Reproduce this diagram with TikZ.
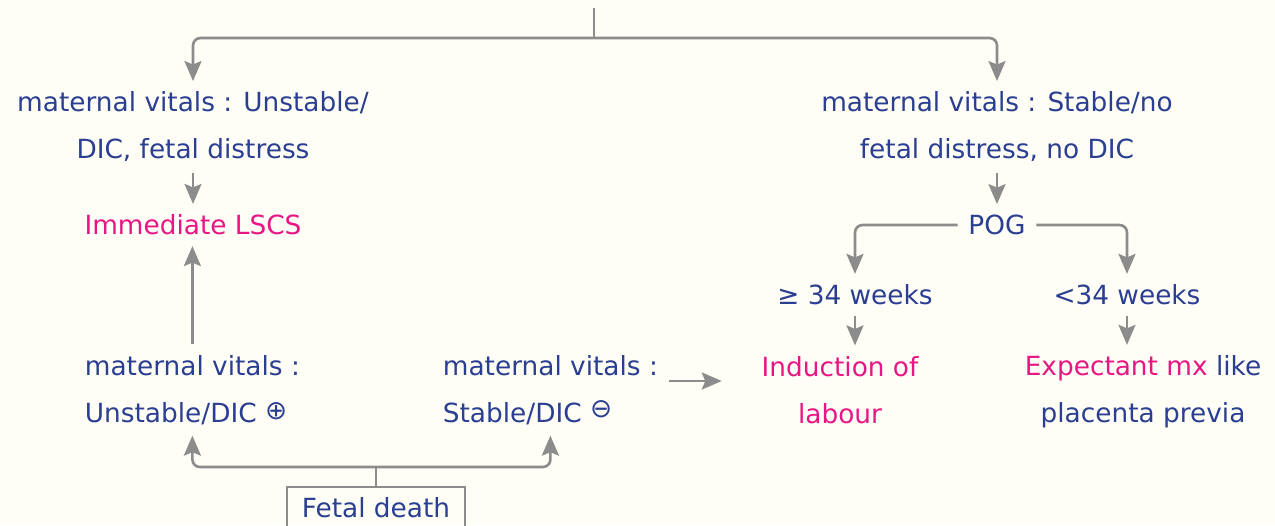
\documentclass[tikz,border=0pt]{standalone}
\usepackage{fontspec}
\setmainfont{DejaVu Sans}
\usepackage{tikz}
\usetikzlibrary{arrows.meta,positioning}
\definecolor{penblue}{RGB}{42,62,146}
\definecolor{penpink}{RGB}{232,22,132}
\definecolor{wiregray}{RGB}{140,140,140}
\definecolor{paper}{RGB}{255,254,246}
\tikzset{
  note/.style={font=\fontsize{15}{26.75}\selectfont, text=penblue,
               align=center, inner sep=6pt},
  hot/.style={note, text=penpink},
  arr/.style={-{Stealth[length=0.4cm, width=0.34cm, inset=0.07cm]},
              line width=1.5pt, draw=wiregray, rounded corners=0.15cm},
  wire/.style={line width=1.5pt, draw=wiregray},
  deathbox/.style={note, draw=wiregray, line width=1.2pt,
                   minimum width=3.56cm, text depth=0.35cm},
}

\begin{document}
\begin{tikzpicture}[x=0.02cm, y=-0.02cm]
  % paper
  \fill[paper] (0,0) rectangle (1275,525);
  \useasboundingbox (0,0) rectangle (1275,525);
  % left branch
  \node[note] (lvit) at (193,127) {maternal vitals : Unstable/\\DIC, fetal distress};
  \node[hot]  (lscs) at (193,225) {Immediate LSCS};
  % fetal death branch
  \node[note, align=left, anchor=west] (lbot) at (74,390)
       {maternal vitals :\\Unstable/DIC \raisebox{0.1em}{⊕}};
  \node[note, align=left, anchor=west] (mbot) at (432,390)
       {maternal vitals :\\Stable/DIC \raisebox{0.2em}{⊖}};
  \node[deathbox, anchor=north] (fetal) at (376,486) {Fetal death};
  % right branch
  \node[note] (rvit) at (997,127) {maternal vitals : Stable/no\\fetal distress, no DIC};
  \node[note] (pog)  at (997,225) {POG};
  \node[note] (ge34) at (855,295) {≥ 34 weeks};
  \node[note] (lt34) at (1127,295) {<34 weeks};
  \node[hot]  (induct) at (840,390) {Induction of\\labour};
  \node[note] (expect) at (1143,392)
       {{\color{penpink}Expectant mx} like\\placenta previa};
  % split at the top
  \coordinate (root) at (594,8);
  \coordinate (split) at (594,38);
  \draw[wire] (root) -- (split);
  \draw[arr] (split) -| (lvit);
  \draw[arr] (split) -| (rvit);
  % left column arrows
  \draw[arr] (lvit) -- (lscs);
  \draw[arr] (lbot.north) -- (lbot.north |- lscs.south);
  % from fetal death
  \coordinate (fsplit) at (376,467);
  \draw[wire] (fetal) -- (fsplit);
  \draw[arr] (fsplit) -| (lbot);
  \draw[arr] (fsplit) -| (mbot);
  \draw[arr, shorten >=0.58cm] ([yshift=0.18cm]mbot.east) -- ([yshift=0.18cm]mbot.east -| induct.west);
  % POG split
  \draw[arr] (rvit) -- (pog);
  \draw[arr] (pog.west) -| (ge34);
  \draw[arr] (pog.east) -| (lt34);
  \draw[arr] (ge34) -- (ge34 |- induct.north);
  \draw[arr] (lt34) -- (lt34 |- expect.north);
\end{tikzpicture}
\end{document}
